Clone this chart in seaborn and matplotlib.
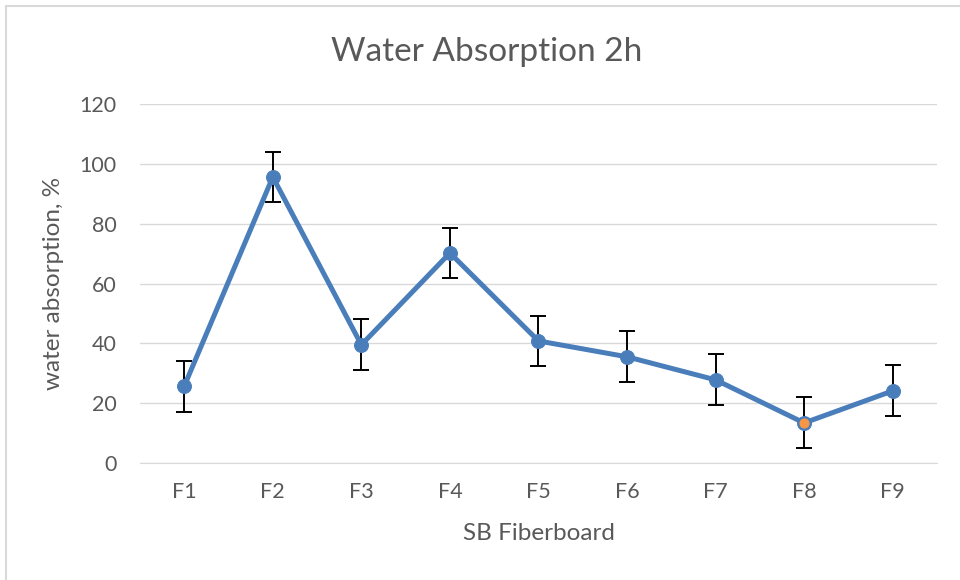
import seaborn as sns
import pandas as pd
import matplotlib
import matplotlib.pyplot as plt
from matplotlib.patches import Rectangle

# data
boards = ['F1', 'F2', 'F3', 'F4', 'F5', 'F6', 'F7', 'F8', 'F9']
absorption = [25.7, 95.6, 39.5, 70.2, 40.8, 35.5, 27.8, 13.4, 24.1]
err = [8.5, 8.5, 8.5, 8.5, 8.5, 8.5, 8.5, 8.5, 8.5]
highlight = 'F8'

sns.set_style('white')
plt.rcParams['font.family'] = ['Lato', 'DejaVu Sans']

txt = '#595959'
blue = '#4a7ebb'

df = pd.DataFrame({'board': boards, 'wa': absorption, 'err': err})

fig = plt.figure(figsize=(9.6, 5.8), dpi=100)
ax = fig.add_axes([0.1458, 0.2017, 0.8302, 0.619])

ax.errorbar(df['board'], df['wa'], yerr=df['err'], fmt='none', ecolor='black',
            elinewidth=1.4, capsize=6, capthick=1.4, zorder=2)
sns.lineplot(data=df, x='board', y='wa', ax=ax, color=blue, linewidth=3.6,
             marker='o', markersize=10, markeredgecolor=blue, zorder=3)
hl = df[df['board'] == highlight]
ax.plot(hl['board'], hl['wa'], 'o', color='#f79646', markersize=8.5,
        markeredgecolor=blue, markeredgewidth=1.2, zorder=4)

ax.set_xlim(-0.5, len(boards) - 0.5)
ax.set_ylim(0, 120)
ax.set_yticks(range(0, 121, 20))
ax.yaxis.grid(True, color='#d9d9d9', linewidth=1)
ax.xaxis.grid(False)
for s in ['top', 'right', 'left']:
    ax.spines[s].set_visible(False)
ax.spines['bottom'].set_color('#d9d9d9')
ax.tick_params(axis='both', length=0, labelsize=15.5, colors=txt)
ax.tick_params(axis='x', pad=14)
ax.tick_params(axis='y', pad=17)

ax.set_xlabel('SB Fiberboard', fontsize=17.5, color=txt)
ax.set_ylabel('water absorption, %', fontsize=17.5, color=txt)
ax.xaxis.set_label_coords(0.5, -0.168)
ax.yaxis.set_label_coords(-0.095, 0.5)
fig.text(0.507, 0.91, 'Water Absorption 2h', ha='center', va='center',
         fontsize=24, color=txt)

# light frame around the chart area
fig.patches.append(Rectangle((6 / 960, -0.1), 2, 1.1 - 6 / 580,
                             transform=fig.transFigure, fill=False,
                             edgecolor='#d9d9d9', linewidth=1.5))

plt.savefig('out.png', dpi=100)
